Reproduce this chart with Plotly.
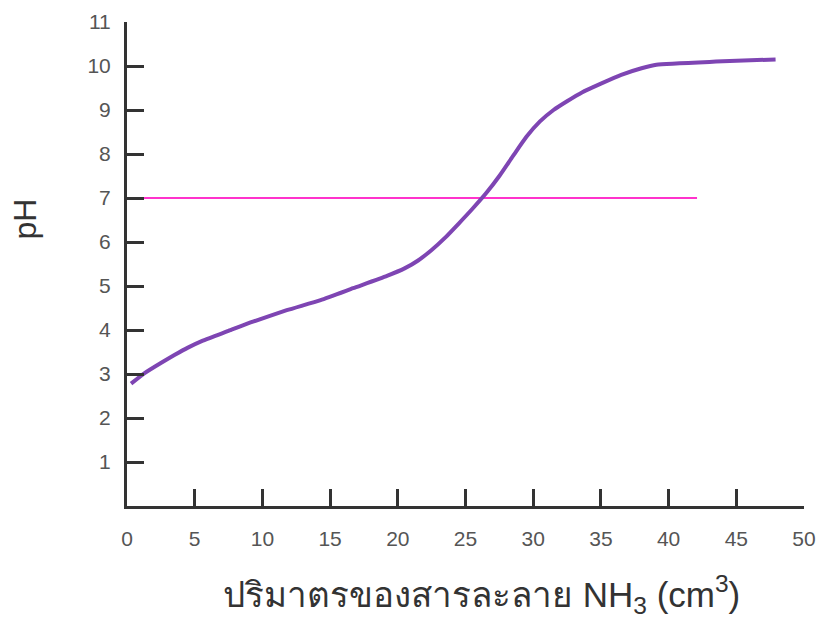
import plotly.graph_objects as go

# Titration curve data (volume of NH3 in cm3 vs pH)
volume = [0.3, 1.3, 2.5, 3.5, 4.5, 5.6, 7.5, 9.3, 11.8, 14.3, 16.7, 19.2, 20.5, 21.5, 22.5, 23.5,
          24.5, 25.5, 26.5, 27.5, 28.5, 29.5, 30.5, 31.5, 32.5, 33.6, 35.0, 36.5, 38.0, 39.1, 43.5, 47.9]
ph = [2.78, 3.02, 3.25, 3.43, 3.6, 3.76, 3.98, 4.19, 4.45, 4.68, 4.95, 5.23, 5.40, 5.58, 5.82, 6.1,
      6.42, 6.75, 7.1, 7.5, 7.95, 8.39, 8.74, 9.0, 9.2, 9.4, 9.6, 9.8, 9.95, 10.03, 10.1, 10.15]

neutral_x = [0, 42.1]
neutral_y = [7, 7]

x_ticks = [0, 5, 10, 15, 20, 25, 30, 35, 40, 45, 50]
y_ticks = [1, 2, 3, 4, 5, 6, 7, 8, 9, 10, 11]

fig = go.Figure()
fig.add_trace(go.Scatter(x=neutral_x, y=neutral_y, mode="lines",
                         line=dict(color="#ff33cc", width=2), showlegend=False))
fig.add_trace(go.Scatter(x=volume, y=ph, mode="lines",
                         line=dict(color="#7e45b3", width=4, shape="spline", smoothing=0.5),
                         showlegend=False))

axis_common = dict(showline=True, linecolor="#333333", linewidth=3,
                   ticks="inside", ticklen=17, tickwidth=3, tickcolor="#333333",
                   showgrid=False, zeroline=False, automargin=False,
                   tickfont=dict(family="Liberation Sans, Arial, sans-serif", size=21, color="#555555"))

fig.update_layout(
    width=821, height=619,
    margin=dict(l=127, r=17, t=22, b=113),
    plot_bgcolor="white", paper_bgcolor="white",
    xaxis=dict(range=[0, 50], tickvals=x_ticks, ticklabelstandoff=12, **axis_common),
    yaxis=dict(range=[0, 11], tickvals=y_ticks, ticklabelstandoff=9, **axis_common),
    annotations=[
        dict(text="pH", xref="paper", yref="paper", x=-0.15, y=0.593, showarrow=False,
             xanchor="center", yanchor="middle",
             textangle=-90, font=dict(family="Liberation Sans, Arial, sans-serif", size=32, color="#333333")),
        dict(text="ปริมาตรของสารละลาย NH<sub>3</sub> (cm<sup>3</sup>)", xref="paper", yref="paper",
             x=0.523, y=-0.183, showarrow=False, xanchor="center", yanchor="middle",
             font=dict(family="Liberation Sans, Noto Sans, sans-serif", size=35, color="#333333")),
    ],
)

fig.write_html("out.html")
